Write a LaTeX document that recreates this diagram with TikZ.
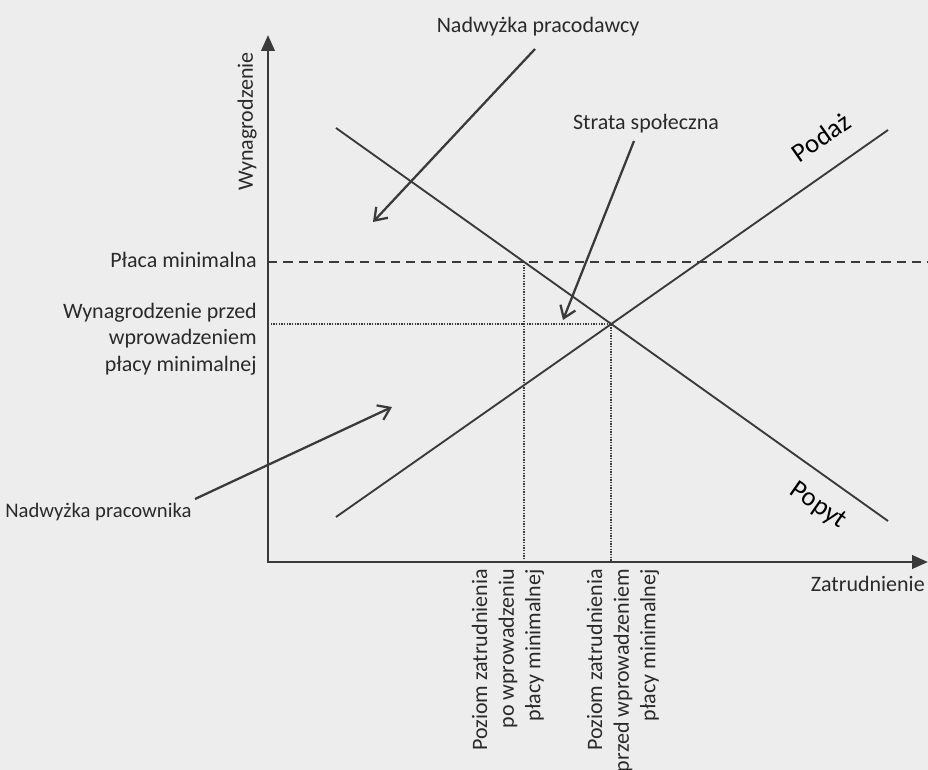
\documentclass[tikz,border=0pt]{standalone}
\usepackage{fontspec}
\setmainfont{Carlito}
\usetikzlibrary{arrows.meta}
\definecolor{bg}{HTML}{EDEDED}
\definecolor{ink}{HTML}{3A3A3A}
\definecolor{txt}{HTML}{2A2A2A}
\begin{document}
\begin{tikzpicture}[x=0.75pt,y=-0.75pt,
  lbl/.style={font=\fontsize{16.5}{20}\selectfont, text=txt, inner sep=0pt},
  biglbl/.style={font=\fontsize{20}{24}\selectfont, text=black, inner sep=0pt},
  curve/.style={draw=ink, line width=1.4pt},
  axis/.style={draw=ink, line width=2.2pt, {Triangle[length=12pt,width=10pt]}-{Triangle[length=12pt,width=10pt]}},
  note/.style={draw=ink, line width=1.7pt, -{Straight Barb[length=8.5pt,width=12pt]}},
  guide/.style={draw=ink, line width=1.3pt, dash pattern=on 1pt off 1pt},
  minline/.style={draw=ink, line width=1.6pt, dash pattern=on 7pt off 4.5pt}]
\fill[bg] (0,0) rectangle (928,770);
\useasboundingbox (0,0) rectangle (928,770);
% axes
\coordinate (O) at (268,562);
\coordinate (Ytop) at (268,35);
\coordinate (Xend) at (928,562);
\draw[axis] (Ytop) -- (O) -- (Xend);
% curves
\coordinate (D1) at (336,128);
\coordinate (D2) at (888,521);
\coordinate (S1) at (336,517);
\coordinate (S2) at (888,130);
\draw[curve] (D1) -- (D2);
\draw[curve] (S1) -- (S2);
\coordinate (E) at (intersection of D1--D2 and S1--S2);
\coordinate (Wmin) at (268,262);
\coordinate (Wmax) at (928,262);
\coordinate (M) at (intersection of D1--D2 and Wmin--Wmax);
\coordinate (Weq) at (O |- E);
\coordinate (Lmin) at (M |- O);
\coordinate (Leq) at (E |- O);
\draw[minline] (Wmin) -- (Wmax);
\draw[guide] (Weq) -- (E) -- (Leq);
\draw[guide] (M) -- (Lmin);
% labels
\node[lbl, anchor=east] (plmin) at (257,260) {Płaca minimalna};
\node[lbl, anchor=east, align=right] (wprzed) at (257,339) {Wynagrodzenie przed\\wprowadzeniem\\płacy minimalnej};
\node[lbl, rotate=90, anchor=east] (wyn) at (247,52) {Wynagrodzenie};
\node[lbl, anchor=east] (zat) at (925,584) {Zatrudnienie};
\node[lbl] (npd) at (538,27) {Nadwyżka pracodawcy};
\node[lbl] (str) at (646,124) {Strata społeczna};
\node[lbl, anchor=west, font=\fontsize{15.5}{18}\selectfont] (npk) at (5,512) {Nadwyżka pracownika};
\node[biglbl, rotate=35] (pod) at (821,137) {Podaż};
\node[biglbl, rotate=-35] (pop) at (818,506) {Popyt};
\node[lbl, rotate=90, anchor=east, align=right] (pz1) at (508,569) {Poziom zatrudnienia\\po wprowadzeniu\\płacy minimalnej};
\node[lbl, rotate=90, anchor=east, align=right] (pz2) at (623,569) {Poziom zatrudnienia\\przed wprowadzeniem\\płacy minimalnej};
% annotation arrows
\coordinate (a1s) at (535,49);
\coordinate (a1e) at (373,222);
\coordinate (a2s) at (634,141);
\coordinate (a2e) at (563,320);
\coordinate (a3s) at (195,499);
\coordinate (a3e) at (392,407);
\draw[note] (a1s) -- (a1e);
\draw[note] (a2s) -- (a2e);
\draw[note] (a3s) -- (a3e);
\end{tikzpicture}
\end{document}
